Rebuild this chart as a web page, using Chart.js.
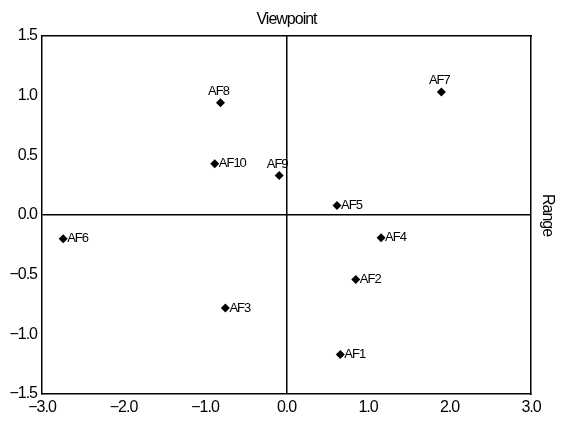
<!DOCTYPE html>
<html>
<head>
<meta charset="utf-8">
<script src="https://cdn.jsdelivr.net/npm/chart.js@4/dist/chart.umd.min.js"></script>
<style>
	body { margin: 0; background: #fff; }
	canvas { display: block; }
</style>
</head>
<body>
<canvas id="canvas" width="563" height="423"></canvas>
<script>
const names = ["AF1", "AF2", "AF3", "AF4", "AF5", "AF6", "AF7", "AF8", "AF9", "AF10"];
const xValues = [0.66, 0.85, -0.75, 1.16, 0.62, -2.74, 1.9, -0.81, -0.09, -0.88];
const yValues = [-1.17, -0.54, -0.78, -0.19, 0.08, -0.2, 1.03, 0.94, 0.33, 0.43];
const xTickLabels = ["\u22123.0", "\u22122.0", "\u22121.0", "0.0", "1.0", "2.0", "3.0"];
const yTickLabels = ["\u22121.5", "\u22121.0", "\u22120.5", "0.0", "0.5", "1.0", "1.5"];
const labelsAbove = ["AF7", "AF8", "AF9"];

const fuente = "'Liberation Sans', Arial, sans-serif";
const negro = "#000";

// letra algo mas apretada, como en el original
const apretado = {
	id: "apretado",
	beforeDraw(chart) {
		chart.ctx.letterSpacing = "-1px";
	},
};

// nombres junto a cada punto
const etiquetas = {
	id: "etiquetas",
	afterDatasetsDraw(chart) {
		const ctx = chart.ctx;
		const meta = chart.getDatasetMeta(0);
		ctx.save();
		ctx.font = "13px " + fuente;
		ctx.fillStyle = negro;
		meta.data.forEach((punto, i) => {
			if (labelsAbove.includes(names[i])) {
				ctx.textAlign = "center";
				ctx.textBaseline = "bottom";
				ctx.fillText(names[i], punto.x - 2, punto.y - 5);
			} else {
				ctx.textAlign = "left";
				ctx.textBaseline = "middle";
				ctx.fillText(names[i], punto.x + 4, punto.y);
			}
		});
		ctx.restore();
	},
};

const soloCero = (ctx) => (ctx.tick && ctx.tick.value === 0 ? negro : "transparent");

const grafico = new Chart(document.getElementById("canvas"), {
	type: "scatter",
	data: {
		datasets: [
			{
				data: xValues.map((x, i) => ({ x: x, y: yValues[i] })),
				pointStyle: "rectRot",
				pointRadius: 4.5,
				pointBackgroundColor: negro,
				pointBorderWidth: 0,
			},
		],
	},
	options: {
		responsive: false,
		animation: false,
		layout: { padding: 0 },
		plugins: {
			legend: { display: false },
			tooltip: { enabled: false },
		},
		scales: {
			x: {
				type: "linear",
				position: "bottom",
				min: -3,
				max: 3,
				ticks: {
					stepSize: 1,
					color: negro,
					padding: 4,
					font: { family: fuente, size: 16 },
					callback: (v, i) => xTickLabels[i],
				},
				grid: { color: soloCero, lineWidth: 1.5, drawTicks: false },
				border: { color: negro, width: 1.5 },
				afterFit: (s) => { s.height = 29; },
			},
			y: {
				type: "linear",
				position: "left",
				min: -1.5,
				max: 1.5,
				ticks: {
					stepSize: 0.5,
					color: negro,
					padding: 5,
					font: { family: fuente, size: 16 },
					callback: (v, i) => yTickLabels[i],
				},
				grid: { color: soloCero, lineWidth: 1.5, drawTicks: false },
				border: { color: negro, width: 1.5 },
				afterFit: (s) => { s.width = 42; },
			},
			x2: {
				type: "linear",
				position: "top",
				min: -3,
				max: 3,
				ticks: { display: false },
				grid: { display: false, drawTicks: false },
				border: { color: negro, width: 1.5 },
				title: {
					display: true,
					text: "Viewpoint",
					color: negro,
					font: { family: fuente, size: 16 },
					padding: { top: 10, bottom: 0 },
				},
				afterFit: (s) => { s.height = 36; },
			},
			y2: {
				type: "linear",
				position: "right",
				min: -1.5,
				max: 1.5,
				ticks: { display: false },
				grid: { display: false, drawTicks: false },
				border: { color: negro, width: 1.5 },
				title: {
					display: true,
					text: "Range",
					color: negro,
					font: { family: fuente, size: 16 },
					padding: { top: 6, bottom: 0 },
				},
				afterFit: (s) => { s.width = 32; },
			},
		},
	},
	plugins: [apretado, etiquetas],
});
</script>
</body>
</html>
